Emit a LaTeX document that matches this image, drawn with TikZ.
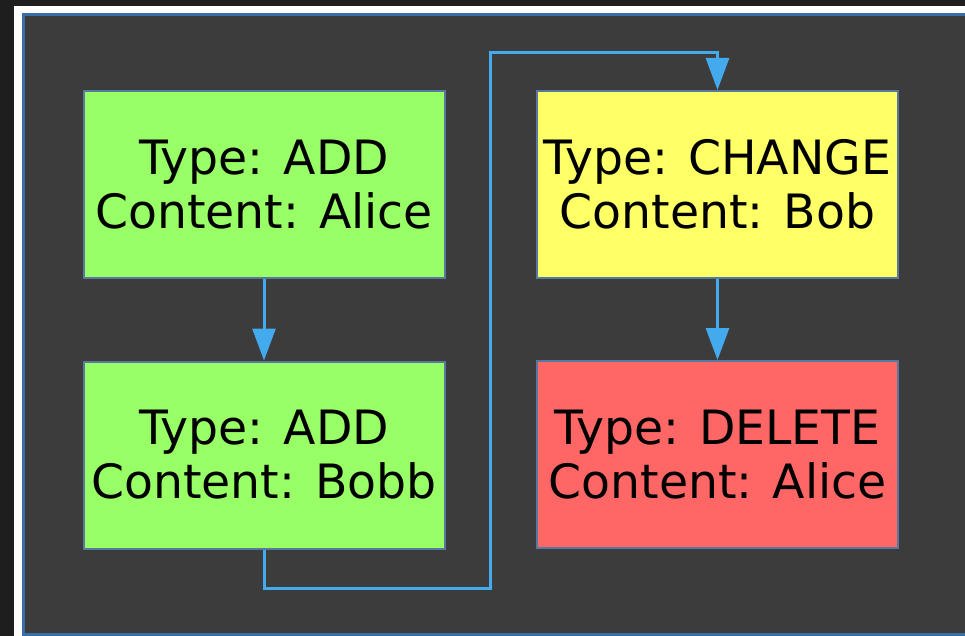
\documentclass[tikz,border=0pt]{standalone}
\usepackage{fontspec}
\setmainfont{DejaVu Sans}
\usetikzlibrary{arrows.meta}

\definecolor{outerbg}{HTML}{1E1E1E}
\definecolor{panelbg}{HTML}{3C3C3C}
\definecolor{panelline}{HTML}{3A6EA8}
\definecolor{boxline}{HTML}{5878A0}
\definecolor{edgeblue}{HTML}{44AAEE}
\definecolor{addgreen}{HTML}{99FF66}
\definecolor{chgyellow}{HTML}{FFFF66}
\definecolor{delred}{HTML}{FF6666}

\begin{document}
\begin{tikzpicture}[x=1pt,y=-1pt]
	\tikzstyle{entry}=[rectangle,draw=boxline,line width=2pt,minimum width=361pt,minimum height=187pt,inner sep=0pt,align=center,font=\fontsize{47.3}{54}\selectfont]
	\tikzstyle{edge}=[draw=edgeblue,line width=3pt,-{Triangle[width=23pt,length=32pt]}]
	\useasboundingbox (0,0) rectangle (965,636);
	\fill[outerbg] (0,0) rectangle (965,636);
	\fill[white] (14,6) rectangle (965,636);
	\draw[panelline,line width=3pt,fill=panelbg] (23,15) rectangle (980,634);
	\node[entry,fill=addgreen] (add1) at (264,184.5) {Type: ADD\\Content: Alice};
	\node[entry,fill=addgreen] (add2) at (264,455) {Type: ADD\\Content: Bobb};
	\node[entry,fill=chgyellow] (chg) at (717.5,184.5) {Type: CHANGE\\Content: Bob};
	\node[entry,fill=delred] (del) at (717.5,454.5) {Type: DELETE\\Content: Alice};
	\coordinate (turnlow) at (490,588);
	\coordinate (turnhigh) at (490,53);
	\draw[edge] (add1) -- (add2);
	\draw[edge] (add2.south) |- (turnlow) -- (turnhigh) -| (chg.north);
	\draw[edge] (chg) -- (del);
\end{tikzpicture}
\end{document}
